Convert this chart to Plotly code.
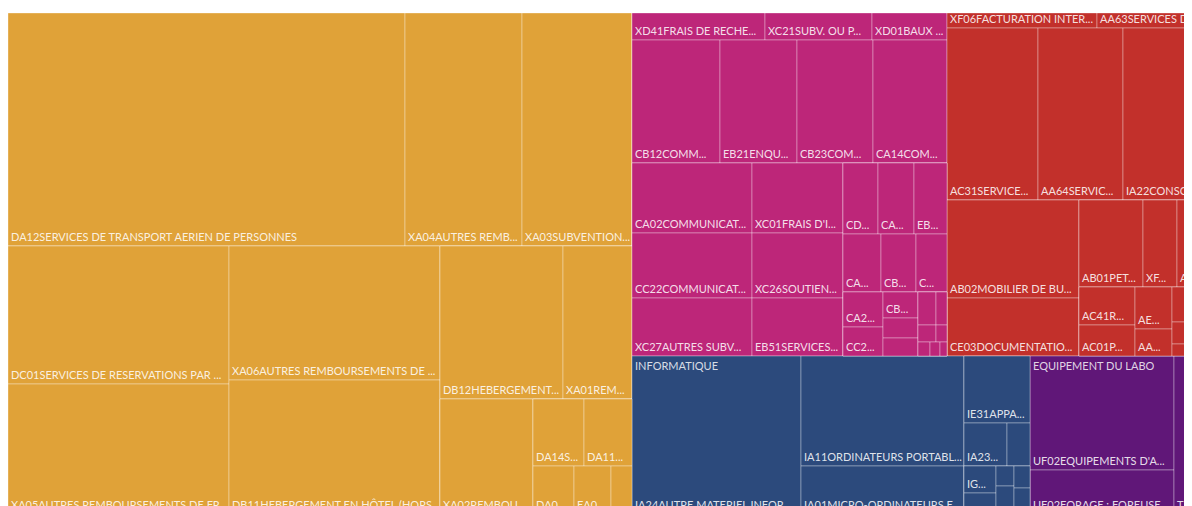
import plotly.graph_objects as go

FONT = "Segoe UI, Lato, sans-serif"

# ---- category (group) nodes -------------------------------------------
GROUP_IDS = ["MISSIONS ET DEPLACEMENTS", "COMMUNICATION ET SERVICES", "FONCTIONNEMENT",
             "INFORMATIQUE", "EQUIPEMENT DU LABO"]
GROUP_PARENTS = ["total", "R_TOP", "R_TOP", "R_BOT", "R_BOT"]
GROUP_COLORS = ["#E0A238", "#BD2679", "#C2302B", "#2C4A7C", "#601778"]
GROUP_HEADERS = ["", "", "", "INFORMATIQUE", "EQUIPEMENT DU LABO"]

# ---- layout blocks (unlabelled grouping rows / columns of the tiling) --
BLOCK_IDS = ["RIGHT", "R_TOP", "R_BOT",
             "O_TOP", "O_BOT", "O_C1", "O_C2", "O_C3", "O_C3a", "O_C3b", "O_XA02", "O_C3b2", "O_r1", "O_r2",
             "M_r1", "M_r2", "M_rest", "M_cA", "M_cB", "M_cC", "M_c1", "M_c2", "M_c3",
             "M_s1", "M_s2", "M_s3", "M_t1", "M_t2", "M_t3",
             "R_r1", "R_r2", "R_rest", "R_cA", "R_cB", "R_b1", "R_b2", "R_d1", "R_d2", "R_d3",
             "I_wrap", "I_ia24", "I_c2", "I_c3", "I_ie31", "I_r2", "I_r3", "I_g1", "I_g2", "I_g3",
             "E_wrap", "E_c1", "E_tr"]
BLOCK_PARENTS = ["total", "RIGHT", "RIGHT",
                 "MISSIONS ET DEPLACEMENTS", "MISSIONS ET DEPLACEMENTS", "O_BOT", "O_BOT", "O_BOT",
                 "O_C3", "O_C3", "O_C3b", "O_C3b", "O_C3b2", "O_C3b2",
                 "COMMUNICATION ET SERVICES", "COMMUNICATION ET SERVICES", "COMMUNICATION ET SERVICES",
                 "M_rest", "M_rest", "M_rest", "M_cC", "M_cC", "M_cC",
                 "M_c3", "M_c3", "M_c3", "M_s3", "M_s3", "M_s3",
                 "FONCTIONNEMENT", "FONCTIONNEMENT", "FONCTIONNEMENT", "R_rest", "R_rest",
                 "R_cB", "R_cB", "R_b2", "R_b2", "R_b2",
                 "INFORMATIQUE", "I_wrap", "I_wrap", "I_wrap", "I_c3", "I_c3", "I_c3",
                 "I_r3", "I_r3", "I_r3",
                 "EQUIPEMENT DU LABO", "E_wrap", "E_wrap"]

# ---- leaves ------------------------------------------------------------
MISSIONS_LABELS = ["DA12SERVICES DE TRANSPORT AERIEN DE PERSONNES", "XA04AUTRES REMB...", "XA03SUBVENTION...",
                   "DC01SERVICES DE RESERVATIONS PAR ...", "XA05AUTRES REMBOURSEMENTS DE FR...",
                   "XA06AUTRES REMBOURSEMENTS DE ...", "DB11HEBERGEMENT EN HÔTEL (HORS...",
                   "DB12HEBERGEMENT...", "XA01REM...", "XA02REMBOU...", "DA14S...", "DA11...",
                   "DA0...", "EA0...", ""]
MISSIONS_VALUES = [92501, 27261, 25630, 30498, 28730, 28274, 28274, 18819, 10557, 10695,
                   3417, 3216, 1968, 1776, 1008]
MISSIONS_BLOCKS = ["O_TOP", "O_TOP", "O_TOP", "O_C1", "O_C1", "O_C2", "O_C2", "O_C3a", "O_C3a",
                   "O_XA02", "O_r1", "O_r1", "O_r2", "O_r2", "O_r2"]

COMM_LABELS = ["XD41FRAIS DE RECHE...", "XC21SUBV. OU P...", "XD01BAUX ...",
               "CB12COMM...", "EB21ENQU...", "CB23COM...", "CA14COM...",
               "CA02COMMUNICAT...", "CC22COMMUNICAT...", "XC27AUTRES SUBV...",
               "XC01FRAIS D'I...", "XC26SOUTIEN...", "EB51SERVICES...",
               "CD...", "CA...", "EB...", "CA...", "CB...", "C...",
               "CA2...", "CC2...", "CB...", "", "", "", "", "", "", "", "", ""]
COMM_VALUES = [3591, 2889, 2025, 10824, 9471, 9348, 9102, 8400, 7800, 6960, 6370, 5915, 5278,
               2485, 2556, 2343, 2204, 2030, 1798, 1400, 1160, 910, 700, 630, 594, 363, 306, 187,
               168, 140, 98]
COMM_BLOCKS = ["M_r1", "M_r1", "M_r1", "M_r2", "M_r2", "M_r2", "M_r2", "M_cA", "M_cA", "M_cA",
               "M_cB", "M_cB", "M_cB", "M_c1", "M_c1", "M_c1", "M_c2", "M_c2", "M_c2",
               "M_s1", "M_s1", "M_s2", "M_s2", "M_s2", "M_t1", "M_t1", "M_t2", "M_t2",
               "M_t3", "M_t3", "M_t3"]

FONCT_LABELS = ["XF06FACTURATION INTER...", "AA63SERVICES DE...", "AC31SERVICE...", "AA64SERVIC...",
                "IA22CONSO...", "AB02MOBILIER DE BU...", "CE03DOCUMENTATIO...", "AB01PET...", "XF...",
                "A...", "AC41R...", "AC01P...", "AE...", "AA...", "", "", ""]
FONCT_VALUES = [2250, 1545, 15652, 14620, 13244, 12936, 7656, 5568, 2958, 2001, 2128, 1736,
                1554, 999, 980, 616, 336]
FONCT_BLOCKS = ["R_r1", "R_r1", "R_r2", "R_r2", "R_r2", "R_cA", "R_cA", "R_b1", "R_b1", "R_b1",
                "R_d1", "R_d1", "R_d2", "R_d2", "R_d3", "R_d3", "R_d3"]

INFO_LABELS = ["IA24AUTRE MATERIEL INFOR...", "IA11ORDINATEURS PORTABL...", "IA01MICRO-ORDINATEURS E...",
               "IE31APPA...", "IA23...", "", "IG...", "", "", "", "", ""]
INFO_VALUES = [26702, 17930, 7824, 4422, 1849, 989, 864, 672, 360, 504, 352, 416]
INFO_BLOCKS = ["I_ia24", "I_c2", "I_c2", "I_ie31", "I_r2", "I_r2", "I_g1", "I_g1", "I_g2", "I_g2",
               "I_g3", "I_g3"]

LABO_LABELS = ["UF02EQUIPEMENTS D'A...", "UF02FORAGE : FOREUSE...", "TR..."]
LABO_VALUES = [16416, 6336, 4108]
LABO_BLOCKS = ["E_c1", "E_c1", "E_tr"]

LEAF_SETS = [
    ("MISSIONS ET DEPLACEMENTS", MISSIONS_LABELS, MISSIONS_VALUES, MISSIONS_BLOCKS),
    ("COMMUNICATION ET SERVICES", COMM_LABELS, COMM_VALUES, COMM_BLOCKS),
    ("FONCTIONNEMENT", FONCT_LABELS, FONCT_VALUES, FONCT_BLOCKS),
    ("INFORMATIQUE", INFO_LABELS, INFO_VALUES, INFO_BLOCKS),
    ("EQUIPEMENT DU LABO", LABO_LABELS, LABO_VALUES, LABO_BLOCKS),
]

# ---- assemble the hierarchy -------------------------------------------
parent_of = {"total": ""}
for g, p in zip(GROUP_IDS, GROUP_PARENTS):
    parent_of[g] = p
for b, p in zip(BLOCK_IDS, BLOCK_PARENTS):
    parent_of[b] = p
group_color = dict(zip(GROUP_IDS, GROUP_COLORS))


def color_for(node):
    while node and node not in group_color:
        node = parent_of.get(node, "")
    return group_color.get(node, "rgba(0,0,0,0)")


def ancestors(node):
    out, p = [], parent_of.get(node, "")
    while p and p != "total":
        out.append(p)
        p = parent_of.get(p, "")
    return out


ids, labels, parents, values, colors, leaf_text = [], [], [], [], [], []


def add(i, lab, par, val, col, lt):
    ids.append(i); labels.append(lab); parents.append(par); values.append(val)
    colors.append(col); leaf_text.append(lt)


add("total", "Total", "", 0, "rgba(0,0,0,0)", "")
for g, p, c in zip(GROUP_IDS, GROUP_PARENTS, GROUP_COLORS):
    add(g, g, p, 0, c, "")
for b, p in zip(BLOCK_IDS, BLOCK_PARENTS):
    add(b, "", p, 0, color_for(b), "")
for gname, labs, vals, blks in LEAF_SETS:
    for k, (lab, val, blk) in enumerate(zip(labs, vals, blks)):
        add(f"{gname}|{k}", lab, blk, val, group_color[gname], lab)

# category-header overlay: same tiling, stopping at the categories
group_total = {g: sum(v) for g, _, v, _ in LEAF_SETS}
upper = {a for g in GROUP_IDS for a in ancestors(g)}
upper_blocks = [b for b in BLOCK_IDS if b in upper]
h_ids = ["total"] + GROUP_IDS + upper_blocks
h_parents = [""] + GROUP_PARENTS + [parent_of[b] for b in upper_blocks]
h_values = [0] + [group_total[g] for g in GROUP_IDS] + [0] * len(upper_blocks)
h_text = [""] + GROUP_HEADERS + [""] * len(upper_blocks)

tiling = dict(packing="slice-dice", pad=0)
nopad = dict(t=0, l=0, r=0, b=0)

fig = go.Figure()
fig.add_trace(go.Treemap(
    ids=ids, labels=labels, parents=parents, values=values,
    branchvalues="remainder", sort=False, tiling=tiling,
    pathbar=dict(visible=False), root=dict(color="rgba(0,0,0,0)"),
    marker=dict(colors=colors, line=dict(width=1, color="rgba(255,255,255,0.32)"),
                pad=nopad, depthfade=False),
    text=leaf_text, texttemplate="%{text}", textposition="bottom left",
    textfont=dict(family=FONT, size=11, color="rgba(255,255,255,0.86)"),
    hovertemplate="%{label}<br>%{value:,}<extra></extra>",
))
fig.add_trace(go.Treemap(
    ids=h_ids, labels=h_ids, parents=h_parents, values=h_values,
    branchvalues="remainder", sort=False, tiling=tiling,
    pathbar=dict(visible=False), root=dict(color="rgba(0,0,0,0)"),
    marker=dict(colors=["rgba(0,0,0,0)"] * len(h_ids), line=dict(width=0),
                pad=nopad, depthfade=False),
    text=h_text, texttemplate="%{text}", textposition="top left",
    textfont=dict(family=FONT, size=13, color="rgba(255,255,255,0.82)"),
    hoverinfo="skip",
))
fig.update_layout(width=1192, height=506, margin=dict(l=0, r=0, t=5, b=0),
                  paper_bgcolor="white", uniformtext=dict(minsize=11, mode="show"),
                  showlegend=False)
fig.write_html("out.html")
